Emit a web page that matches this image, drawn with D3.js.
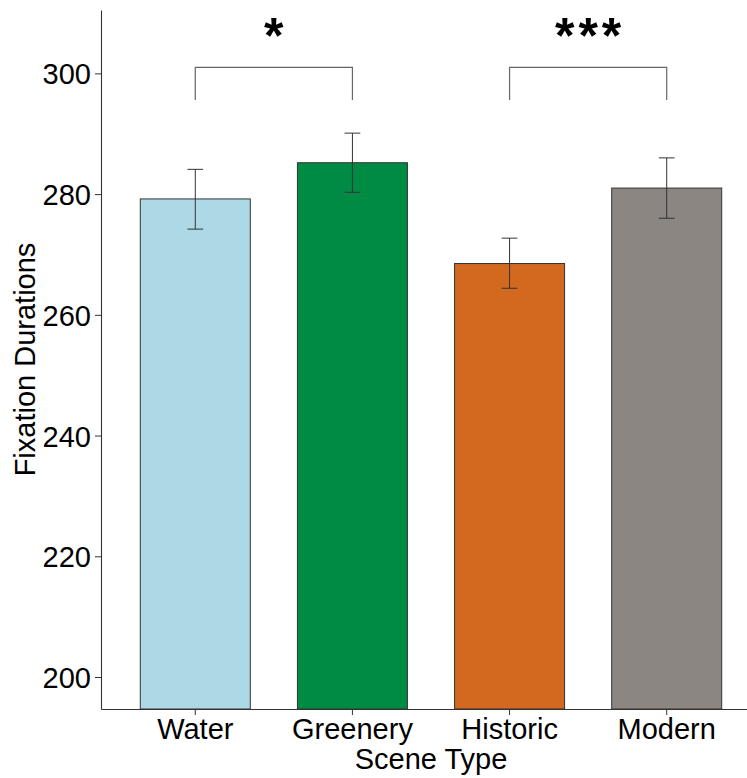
<!DOCTYPE html>
<html>
<head>
<meta charset="utf-8">
<script src="https://cdn.jsdelivr.net/npm/d3@7"></script>
<style>
  body { margin: 0; background: #fff; }
  text { font-family: "Liberation Sans", Arial, sans-serif; }
</style>
</head>
<body>
<div id="chart"></div>
<script>
// data
const categories = ['Water', 'Greenery', 'Historic', 'Modern'];
const means = [279.2, 285.2, 268.5, 281.0];
const lower = [274.2, 280.3, 264.4, 276.0];
const upper = [284.1, 290.1, 272.7, 286.0];
const barColors = ['#ADD8E6', '#008B45', '#D2691E', '#8B8682'];
const yTicks = [200, 220, 240, 260, 280, 300];

// significance brackets: [from, to, label]
const brackets = [
  ['Water', 'Greenery', '*'],
  ['Historic', 'Modern', '***']
];
const bracketTop = 301.0;
const bracketFoot = 295.6;

const width = 747, height = 778;
const margin = { top: 10, right: -14, bottom: 69, left: 101 };

const svg = d3.select('#chart')
  .append('svg')
  .attr('width', width)
  .attr('height', height);

const x = d3.scaleBand()
  .domain(categories)
  .range([margin.left, width - margin.right])
  .paddingInner(0.3)
  .paddingOuter(0.25);

const y = d3.scaleLinear()
  .domain([194.7, 310.5])
  .range([height - margin.bottom, margin.top]);

const rows = categories.map((c, i) => ({
  cat: c, mean: means[i], lo: lower[i], hi: upper[i], color: barColors[i]
}));

// bars
svg.selectAll('rect.bar')
  .data(rows)
  .enter()
  .append('rect')
  .attr('class', 'bar')
  .attr('x', d => x(d.cat))
  .attr('y', d => y(d.mean))
  .attr('width', x.bandwidth())
  .attr('height', d => y(y.domain()[0]) - y(d.mean))
  .attr('fill', d => d.color)
  .attr('stroke', '#333')
  .attr('stroke-width', 1);

// error bars
const capW = x.step() * 0.1;
const eb = svg.selectAll('g.err')
  .data(rows)
  .enter()
  .append('g')
  .attr('class', 'err')
  .attr('stroke', '#333')
  .attr('stroke-width', 1);

eb.append('line')
  .attr('x1', d => x(d.cat) + x.bandwidth() / 2)
  .attr('x2', d => x(d.cat) + x.bandwidth() / 2)
  .attr('y1', d => y(d.lo))
  .attr('y2', d => y(d.hi));
eb.append('line')
  .attr('x1', d => x(d.cat) + x.bandwidth() / 2 - capW / 2)
  .attr('x2', d => x(d.cat) + x.bandwidth() / 2 + capW / 2)
  .attr('y1', d => y(d.hi))
  .attr('y2', d => y(d.hi));
eb.append('line')
  .attr('x1', d => x(d.cat) + x.bandwidth() / 2 - capW / 2)
  .attr('x2', d => x(d.cat) + x.bandwidth() / 2 + capW / 2)
  .attr('y1', d => y(d.lo))
  .attr('y2', d => y(d.lo));

// brackets
const cx = c => x(c) + x.bandwidth() / 2;
brackets.forEach(([a, b, label]) => {
  svg.append('path')
    .attr('d', `M${cx(a)},${y(bracketFoot)}V${y(bracketTop)}H${cx(b)}V${y(bracketFoot)}`)
    .attr('fill', 'none')
    .attr('stroke', '#666')
    .attr('stroke-width', 1.2);
  svg.append('text')
    .attr('x', (cx(a) + cx(b)) / 2 + (label.length > 1 ? 2 : 0))
    .attr('y', 53)
    .attr('text-anchor', 'middle')
    .attr('font-size', 50)
    .attr('font-weight', 'bold')
    .attr('letter-spacing', label.length > 1 ? 4 : 0)
    .attr('fill', '#000')
    .text(label);
});

// axes
const xAxis = svg.append('g')
  .attr('transform', `translate(0,${height - margin.bottom})`)
  .call(d3.axisBottom(x).tickSizeInner(6).tickSizeOuter(0).tickPadding(4));

const yAxis = svg.append('g')
  .attr('transform', `translate(${margin.left},0)`)
  .call(d3.axisLeft(y).tickValues(yTicks).tickSizeInner(6).tickSizeOuter(0).tickPadding(4));

[xAxis, yAxis].forEach(g => {
  g.select('.domain').attr('stroke', '#333').attr('stroke-width', 1.1);
  g.selectAll('.tick line').attr('stroke', '#333');
  g.selectAll('.tick text')
    .attr('fill', '#000')
    .attr('font-size', 29)
    .attr('font-family', '"Liberation Sans", Arial, sans-serif');
});
yAxis.selectAll('.tick text').attr('dy', '0.36em');
xAxis.selectAll('.tick text').attr('dy', '0.68em');

// axis titles
svg.append('text')
  .attr('x', (margin.left + width - margin.right) / 2)
  .attr('y', 769)
  .attr('text-anchor', 'middle')
  .attr('font-size', 29)
  .text('Scene Type');

svg.append('text')
  .attr('transform', `translate(35,${(margin.top + height - margin.bottom) / 2}) rotate(-90)`)
  .attr('text-anchor', 'middle')
  .attr('font-size', 29)
  .text('Fixation Durations');
</script>
</body>
</html>
